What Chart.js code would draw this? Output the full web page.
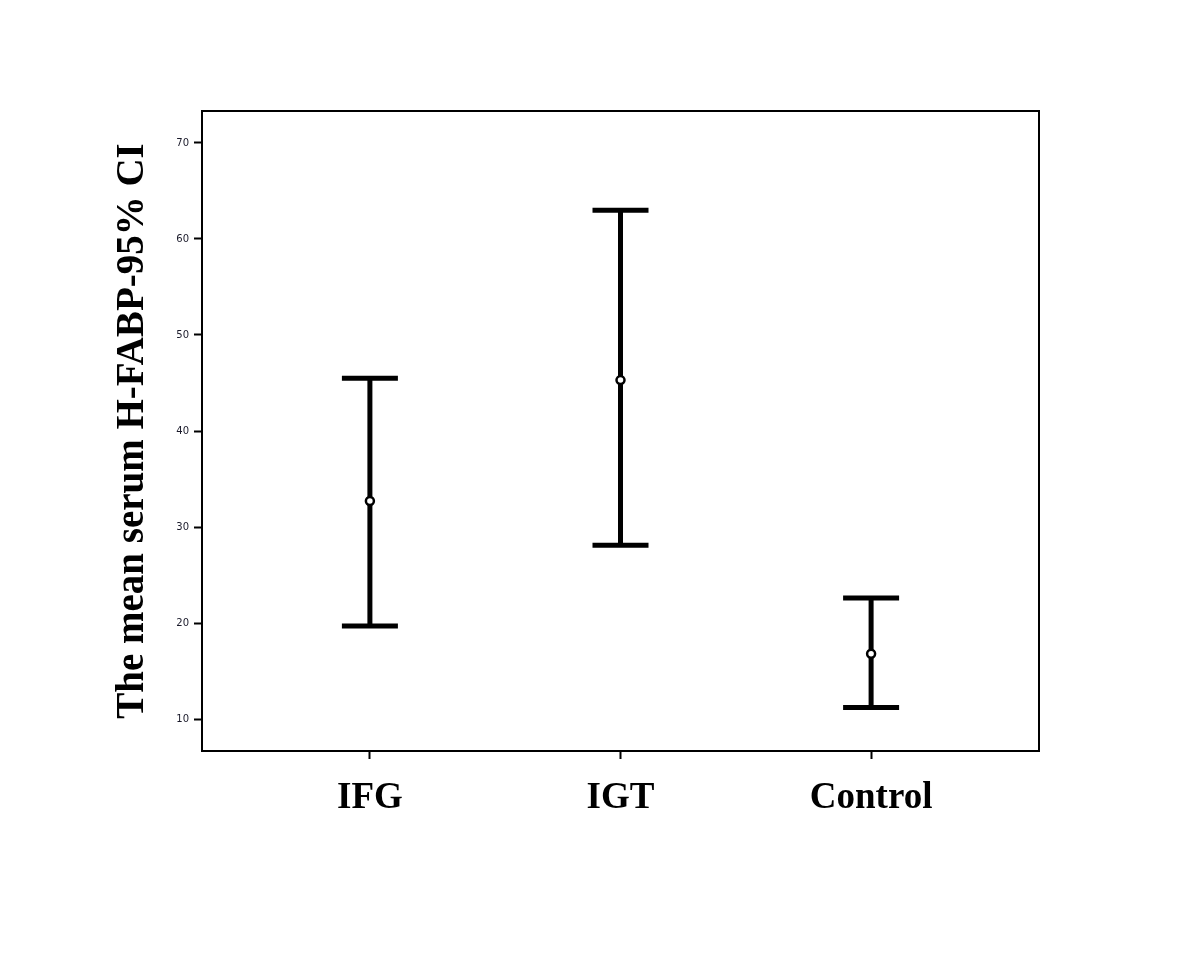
<!DOCTYPE html>
<html>
<head>
<meta charset="utf-8">
<script src="https://cdn.jsdelivr.net/npm/chart.js@4"></script>
<style>
  html, body { margin: 0; padding: 0; background: #ffffff; }
  #wrap { width: 1200px; height: 961px; }
</style>
</head>
<body>
<div id="wrap"><canvas id="c" width="1200" height="961"></canvas></div>
<script>
// ---- data ----
const categories = ["IFG", "IGT", "Control"];
const means = [32.7, 45.3, 16.8];
const lowerCI = [19.7, 28.1, 11.2];
const upperCI = [45.5, 63.0, 22.6];
const yTicks = [10, 20, 30, 40, 50, 60, 70];
const yTitle = "The mean serum H-FABP-95% CI";

const errorBarPlugin = {
  id: 'errorBars',
  beforeDatasetsDraw(chart) {
    const { ctx, scales: { x, y } } = chart;
    ctx.save();
    ctx.strokeStyle = '#000';
    ctx.lineWidth = 5;
    ctx.lineCap = 'butt';
    const cap = 28;
    categories.forEach((c, i) => {
      const px = x.getPixelForValue(i + 1);
      const pLo = y.getPixelForValue(lowerCI[i]);
      const pHi = y.getPixelForValue(upperCI[i]);
      ctx.beginPath();
      ctx.moveTo(px, pLo);
      ctx.lineTo(px, pHi);
      ctx.moveTo(px - cap, pHi);
      ctx.lineTo(px + cap, pHi);
      ctx.moveTo(px - cap, pLo);
      ctx.lineTo(px + cap, pLo);
      ctx.stroke();
    });
    ctx.restore();
  }
};

const framePlugin = {
  id: 'frame',
  afterDraw(chart) {
    const { ctx, chartArea: a } = chart;
    ctx.save();
    ctx.strokeStyle = '#000';
    ctx.lineWidth = 2;
    ctx.strokeRect(a.left, a.top, a.right - a.left, a.bottom - a.top);
    ctx.restore();
  }
};

new Chart(document.getElementById('c'), {
  type: 'scatter',
  data: {
    datasets: [{
      data: means.map((m, i) => ({ x: i + 1, y: m })),
      pointStyle: 'circle',
      pointRadius: 4,
      pointHoverRadius: 4,
      pointBackgroundColor: '#fff',
      pointBorderColor: '#000',
      pointBorderWidth: 2.5
    }]
  },
  options: {
    responsive: false,
    animation: false,
    events: [],
    layout: { padding: { top: 111, right: 161, left: 0, bottom: 0 } },
    plugins: { legend: { display: false }, tooltip: { enabled: false } },
    scales: {
      x: {
        type: 'linear',
        min: 0.33, max: 3.67,
        afterBuildTicks: s => { s.ticks = categories.map((c, i) => ({ value: i + 1 })); },
        afterFit: s => { s.height = 210; },
        ticks: {
          callback: v => categories[v - 1],
          color: '#000',
          font: { family: 'Liberation Serif', weight: 'bold', size: 37 },
          padding: 17,
          maxRotation: 0,
          autoSkip: false
        },
        grid: { drawOnChartArea: false, drawTicks: true, tickLength: 8, tickColor: '#000', tickWidth: 2 },
        border: { display: true, color: '#000', width: 2 }
      },
      y: {
        min: 6.67, max: 73.33,
        afterBuildTicks: s => { s.ticks = yTicks.map(v => ({ value: v })); },
        afterFit: s => { s.width = 202; },
        ticks: {
          color: '#1a1a2a',
          font: { family: 'DejaVu Sans', size: 10 },
          padding: 5
        },
        grid: { drawOnChartArea: false, drawTicks: true, tickLength: 8, tickColor: '#000', tickWidth: 2 },
        border: { display: true, color: '#000', width: 2 },
        title: {
          display: true,
          text: yTitle,
          color: '#000',
          font: { family: 'Liberation Serif', weight: 'bold', size: 39 },
          padding: { top: 110, bottom: 0 }
        }
      }
    }
  },
  plugins: [errorBarPlugin, framePlugin]
});
</script>
</body>
</html>
